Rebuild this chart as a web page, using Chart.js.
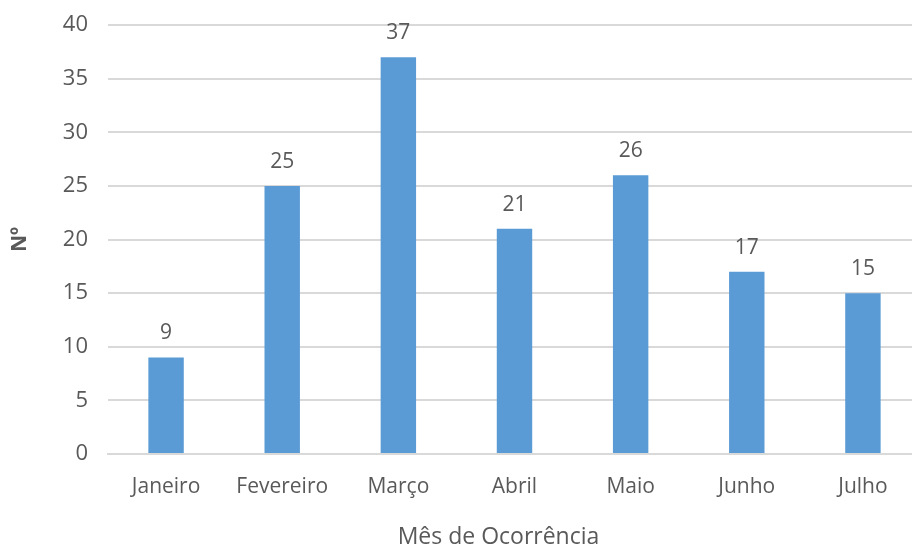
<!DOCTYPE html>
<html>
<head>
<meta charset="utf-8">
<script src="https://cdn.jsdelivr.net/npm/chart.js@4/dist/chart.umd.min.js"></script>
<style>
  html, body { margin: 0; padding: 0; background: #fff; overflow: hidden; }
  #wrap { width: 912px; height: 549px; overflow: hidden; }
</style>
</head>
<body>
<div id="wrap"><canvas id="myChart" width="921" height="549"></canvas></div>
<script>
(function(){

    var meses = ['Janeiro', 'Fevereiro', 'Março', 'Abril', 'Maio', 'Junho', 'Julho'];
    var ocorrencias = [9, 25, 37, 21, 26, 17, 15];
    var yTicks = [0, 5, 10, 15, 20, 25, 30, 35, 40];

    var txtColor = '#595959';
    var fontFamily = '"Open Sans", sans-serif';

    // numbers above each bar + x axis title (a bit left of center, like the original)
    var barLabels = {
        id: 'barLabels',
        afterDatasetsDraw: function (chart) {
            var ctx = chart.ctx;
            var meta = chart.getDatasetMeta(0);
            ctx.save();
            ctx.fillStyle = txtColor;
            ctx.font = '21px ' + fontFamily;
            ctx.textAlign = 'center';
            ctx.textBaseline = 'middle';
            meta.data.forEach(function (bar, i) {
                ctx.fillText(String(ocorrencias[i]), bar.x, bar.y - 24);
            });
            ctx.font = '23px ' + fontFamily;
            var area = chart.chartArea;
            ctx.fillText('Mês de Ocorrência', (area.left + area.right) / 2 - 16, 537);
            ctx.restore();
        }
    };

    var ctx = document.getElementById('myChart').getContext('2d');
    new Chart(ctx, {
        type: 'bar',
        data: {
            labels: meses,
            datasets: [{
                data: ocorrencias,
                backgroundColor: '#5B9BD5',
                categoryPercentage: 1,
                barPercentage: 0.305
            }]
        },
        options: {
            responsive: false,
            animation: false,
            layout: { padding: { top: 25, right: 0, bottom: 0, left: 0 } },
            plugins: {
                legend: { display: false },
                tooltip: { enabled: false }
            },
            scales: {
                x: {
                    grid: { display: false, drawTicks: false },
                    border: { color: '#D9D9D9', width: 2 },
                    ticks: {
                        color: txtColor,
                        font: { family: fontFamily, size: 21 },
                        padding: 20,
                        maxRotation: 0
                    },
                    afterFit: function (scale) {
                        scale.height = 95;
                        scale.paddingLeft = 0;
                        scale.paddingRight = 0;
                    }
                },
                y: {
                    min: 0,
                    max: 40,
                    afterBuildTicks: function (scale) {
                        scale.ticks = yTicks.map(function (v) { return { value: v }; });
                    },
                    grid: { color: '#D9D9D9', lineWidth: 2, drawTicks: false },
                    border: { display: false },
                    ticks: {
                        color: txtColor,
                        font: { family: fontFamily, size: 22 },
                        padding: 20
                    },
                    title: {
                        display: true,
                        text: 'Nº',
                        color: txtColor,
                        font: { family: fontFamily, size: 21, weight: 'bold' },
                        padding: { top: 7, bottom: 0 }
                    },
                    afterFit: function (scale) {
                        scale.width = 108;
                        scale.paddingTop = 0;
                        scale.paddingBottom = 0;
                    }
                }
            }
        },
        plugins: [barLabels]
    });

})();
</script>
</body>
</html>
